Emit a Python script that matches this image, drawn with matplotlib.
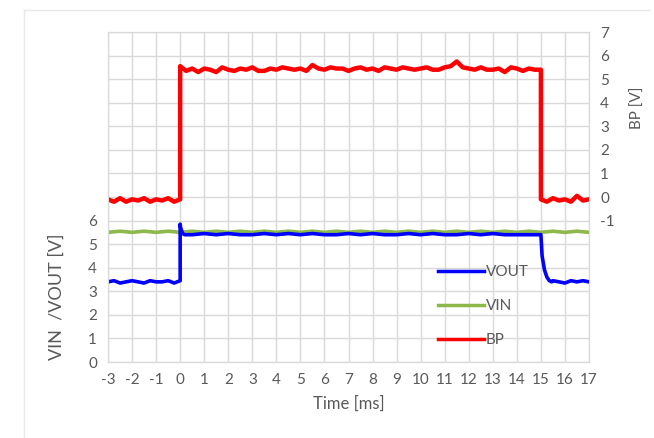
import matplotlib.pyplot as plt
import numpy as np
from matplotlib.lines import Line2D

plt.rcParams['font.family'] = ['Lato', 'DejaVu Sans']
plt.rcParams['axes.unicode_minus'] = False

# BP (right axis) - sampled every 0.25 ms
bp_low1 = [-0.1, -0.2, -0.05, -0.2, -0.1, -0.15, -0.05, -0.2, -0.1, -0.15, -0.05, -0.2, -0.1]
bp_high = [5.55, 5.35, 5.45, 5.3, 5.45, 5.4, 5.3, 5.5, 5.4, 5.35, 5.45, 5.4, 5.5, 5.35, 5.35, 5.45,
           5.4, 5.5, 5.45, 5.4, 5.45, 5.35, 5.6, 5.45, 5.4, 5.5, 5.45, 5.45, 5.35, 5.45, 5.5, 5.4,
           5.45, 5.35, 5.5, 5.45, 5.4, 5.5, 5.45, 5.4, 5.45, 5.5, 5.4, 5.4, 5.5, 5.55, 5.75, 5.5,
           5.45, 5.4, 5.5, 5.4, 5.4, 5.45, 5.3, 5.5, 5.45, 5.35, 5.45, 5.4, 5.4]
bp_low2 = [-0.1, -0.2, -0.05, -0.15, -0.1, -0.2, 0.05, -0.15, -0.1]

# VIN (left axis) - every 0.5 ms
vin = [5.5, 5.55, 5.5, 5.55, 5.5, 5.55, 5.5, 5.55, 5.5, 5.55, 5.5, 5.55, 5.5, 5.55,
       5.5, 5.55, 5.5, 5.55, 5.5, 5.55, 5.5, 5.55, 5.5, 5.55, 5.5, 5.55, 5.5, 5.55,
       5.5, 5.55, 5.5, 5.55, 5.5, 5.55, 5.5, 5.55, 5.5, 5.55, 5.5, 5.55, 5.5]

# VOUT (left axis)
vout_low1 = [3.4, 3.45, 3.35, 3.4, 3.45, 3.4, 3.35, 3.45, 3.4, 3.4, 3.45, 3.35, 3.45]
vout_rise_t = [0.0, 0.02, 0.1, 0.2]
vout_rise = [5.85, 5.7, 5.45, 5.4]
vout_high = [5.4, 5.45, 5.4, 5.45, 5.4, 5.4, 5.45, 5.4, 5.45, 5.4, 5.45, 5.4, 5.4, 5.45,
             5.4, 5.45, 5.4, 5.4, 5.45, 5.4, 5.45, 5.4, 5.4, 5.45, 5.4, 5.45, 5.4, 5.4, 5.4]
vout_fall_t = [15.0, 15.05, 15.15, 15.25, 15.35, 15.45]
vout_fall = [5.4, 4.5, 3.9, 3.6, 3.45, 3.4]
vout_low2 = [3.45, 3.4, 3.35, 3.45, 3.4, 3.45, 3.4]

xticks = list(range(-3, 18))

t_bp = np.concatenate([np.linspace(-3, 0, 13), np.linspace(0, 15, 61), np.linspace(15, 17, 9)])
y_bp = bp_low1 + bp_high + bp_low2
t_vin = np.linspace(-3, 17, 41)
t_vout = np.concatenate([np.linspace(-3, 0, 13), vout_rise_t, np.linspace(0.5, 14.5, 29),
                         vout_fall_t, np.linspace(15.5, 17, 7)])
y_vout = vout_low1 + vout_rise + vout_high + vout_fall + vout_low2

red = '#FF0000'
blue = '#0000FF'
green = '#8DB84A'
grey = '#595959'
gridc = '#D9D9D9'

fig = plt.figure(figsize=(6.54, 4.38), dpi=100)
ax = fig.add_axes([108 / 654, 1 - 362 / 438, 481 / 654, 330 / 438])
ax2 = ax.twinx()

ax.plot(t_vin, vin, color=green, lw=2.6, zorder=3)
ax.plot(t_vout, y_vout, color=blue, lw=2.6, zorder=4)
ax2.plot(t_bp, y_bp, color=red, lw=3.2)

ax.set_xlim(-3, 17)
ax.set_ylim(0, 14)
ax2.set_ylim(-7, 7)
ax.set_xticks(xticks)
ax.set_yticks(range(0, 15))
ax.set_yticklabels([str(v) if v <= 6 else '' for v in range(0, 15)])
ax2.set_yticks(range(-7, 8))
ax2.set_yticklabels([str(v) if v >= -1 else '' for v in range(-7, 8)])
ax.grid(True, color=gridc, lw=1)
ax.set_axisbelow(True)
for a in (ax, ax2):
    for s in a.spines.values():
        s.set_color(gridc)
    a.tick_params(length=0, labelsize=11, colors=grey, pad=8)

ax.set_xlabel('Time [ms]', fontsize=12, color=grey, labelpad=6)
fig.text(57 / 654, 1 - 297 / 438, 'VIN  /VOUT [V]', rotation=90, ha='center', va='center',
         fontsize=13, color=grey)
fig.text(638 / 654, 1 - 108 / 438, 'BP [V]', rotation=90, ha='center', va='center',
         fontsize=11, color=grey)

handles = [Line2D([], [], color=blue, lw=2.5), Line2D([], [], color=green, lw=2.5),
           Line2D([], [], color=red, lw=2.5)]
ax.legend(handles, ['VOUT', 'VIN', 'BP'], loc='lower left', bbox_to_anchor=(0.658, 0.004),
          frameon=False, handlelength=3.0, handletextpad=0.1, labelspacing=1.3,
          fontsize=11, labelcolor=grey)

fig.add_artist(Line2D([24 / 654, 650 / 654], [1 - 10 / 438, 1 - 10 / 438], color='#E8E8E8', lw=1))
fig.add_artist(Line2D([24 / 654, 24 / 654], [0, 1 - 10 / 438], color='#E8E8E8', lw=1))

fig.savefig('out.png', dpi=100)
